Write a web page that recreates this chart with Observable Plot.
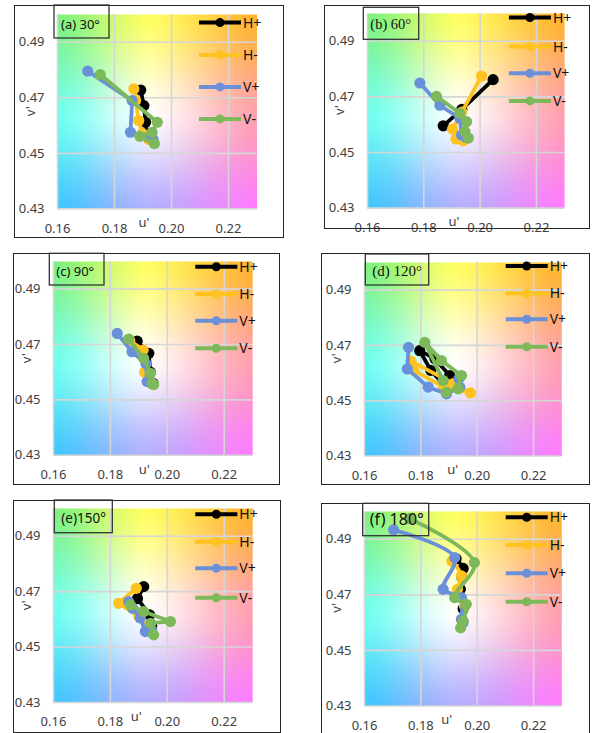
<!DOCTYPE html>
<html><head><meta charset="utf-8">
<script src="https://cdn.jsdelivr.net/npm/d3@7"></script>
<script src="https://cdn.jsdelivr.net/npm/@observablehq/plot@0.6"></script>
<style>
body{margin:0;background:#fff;}
#root{position:relative;width:592px;height:733px;overflow:hidden;font-family:"Noto Sans",sans-serif;background:#fff;}
#root > svg{position:absolute;}
</style></head><body><div id="root"></div>
<script>
// ---- data ----
const seriesNames = ["H+", "H-", "V+", "V-"];
const seriesColors = ["#000000", "#FFC21F", "#6A90D9", "#7DB85A"];
const panelLabels = ["(a) 30°", "(b) 60°", "(c) 90°", "(d) 120°", "(e)150°", "(f) 180°"];
const xTicks = [0.16, 0.18, 0.20, 0.22];
const yTicks = [0.43, 0.45, 0.47, 0.49];
const xDomain = [0.16, 0.23];
const yDomain = [0.43, 0.50];

// [series, u', v']
const d30 = [
  ["H+",0.1892,0.4728],["H+",0.1903,0.4672],["H+",0.1909,0.4612],["H+",0.1915,0.4566],["H+",0.1930,0.4548],
  ["H-",0.1868,0.4732],["H-",0.1874,0.4690],["H-",0.1885,0.4618],["H-",0.1897,0.4572],["H-",0.1920,0.4550],
  ["V+",0.1706,0.4796],["V+",0.1862,0.4690],["V+",0.1856,0.4576],["V+",0.1920,0.4558],["V+",0.1935,0.4550],
  ["V-",0.1750,0.4784],["V-",0.1950,0.4612],["V-",0.1932,0.4576],["V-",0.1889,0.4561],["V-",0.1940,0.4535]
];
const d60 = [
  ["H+",0.1869,0.4596],["H+",0.1935,0.4655],["H+",0.2046,0.4762],
  ["H-",0.2005,0.4775],["H-",0.1935,0.4645],["H-",0.1902,0.4584],["H-",0.1914,0.4548],["H-",0.1940,0.4542],
  ["V+",0.1786,0.4750],["V+",0.1857,0.4670],["V+",0.1928,0.4623],["V+",0.1934,0.4563],["V+",0.1950,0.4555],
  ["V-",0.1845,0.4702],["V-",0.1928,0.4641],["V-",0.1952,0.4611],["V-",0.1946,0.4575],["V-",0.1958,0.4552]
];
const d90 = [
  ["H+",0.1894,0.4712],["H+",0.1935,0.4668],["H+",0.1940,0.4600],["H+",0.1950,0.4560],
  ["H-",0.1868,0.4715],["H-",0.1915,0.4680],["H-",0.1920,0.4600],["H-",0.1934,0.4572],["H-",0.1950,0.4555],
  ["V+",0.1824,0.4740],["V+",0.1876,0.4674],["V+",0.1925,0.4630],["V+",0.1929,0.4566],["V+",0.1945,0.4560],
  ["V-",0.1864,0.4720],["V-",0.1917,0.4650],["V-",0.1941,0.4596],["V-",0.1947,0.4560],["V-",0.1952,0.4555]
];
const d120 = [
  ["H+",0.1902,0.4591],["H+",0.1850,0.4652],["H+",0.1796,0.4681],["H+",0.1835,0.4610],["H+",0.1883,0.4555],["H+",0.1905,0.4550],
  ["H-",0.1765,0.4643],["H-",0.1915,0.4562],["H-",0.1976,0.4528],["H-",0.1880,0.4550],["H-",0.1775,0.4610],
  ["V+",0.1756,0.4693],["V+",0.1752,0.4615],["V+",0.1826,0.4549],["V+",0.1891,0.4525],["V+",0.1938,0.4549],["V+",0.1935,0.4580],
  ["V-",0.1879,0.4573],["V-",0.1814,0.4711],["V-",0.1873,0.4645],["V-",0.1944,0.4591],["V-",0.1932,0.4543],["V-",0.1890,0.4531]
];
const d150 = [
  ["H+",0.1917,0.4718],["H+",0.1895,0.4675],["H+",0.1938,0.4616],["H+",0.1945,0.4575],
  ["H-",0.1891,0.4712],["H-",0.1829,0.4658],["H-",0.1900,0.4610],["H-",0.1930,0.4568],
  ["V+",0.1864,0.4664],["V+",0.1878,0.4640],["V+",0.1905,0.4605],["V+",0.1923,0.4556],["V+",0.1945,0.4562],
  ["V-",0.1870,0.4652],["V-",0.1917,0.4628],["V-",0.2011,0.4592],["V-",0.1941,0.4586],["V-",0.1952,0.4544]
];
const d180 = [
  ["H+",0.1925,0.4830],["H+",0.1950,0.4795],["H+",0.1945,0.4765],["H+",0.1940,0.4720],["H+",0.1950,0.4650],["H+",0.1948,0.4605],
  ["H-",0.1910,0.4822],["H-",0.1944,0.4768],["H-",0.1930,0.4720],["H-",0.1955,0.4660],["H-",0.1945,0.4610],
  ["V+",0.1703,0.4934],["V+",0.1920,0.4834],["V+",0.1879,0.4720],["V+",0.1944,0.4690],["V+",0.1944,0.4612],["V+",0.1950,0.4600],
  ["V-",0.1761,0.4974],["V-",0.1990,0.4816],["V-",0.1920,0.4690],["V-",0.1961,0.4666],["V-",0.1950,0.4606],["V-",0.1941,0.4581]
];
const panelData = [d30, d60, d90, d120, d150, d180];

// ---- layout (pixels) ----
const layout = [
  {box:[14,5,283,237], plot:[57,13.9,256.5,208.3], lab:[54,5,109,38], serif:false, fs:13, ty:24, leg:[8.7,41,73,105], uX:87, curve:"linear"},
  {box:[324,5,589,228], plot:[366.9,12.7,564,207.3], lab:[363.3,7.3,418.7,39.3], serif:true, fs:14.5, ty:22, leg:[4.8,33.8,60.5,88.2], uX:87, curve:"linear"},
  {box:[13,253,279,484], plot:[53.3,261.3,252.5,455], lab:[49.3,253.3,104,285], serif:false, fs:13, ty:23, leg:[5.4,32.7,59.4,87], uX:91, curve:"linear"},
  {box:[321,253,589,484], plot:[363.7,261.5,561,455], lab:[365.3,254,428.7,285], serif:true, fs:15, ty:22, leg:[4.5,31.8,57.8,85.2], uX:89, curve:"linear"},
  {box:[13,500,280,732], plot:[53.3,508.3,252.5,702.3], lab:[54.3,500,112.3,532.7], serif:false, fs:13.5, ty:22.7, leg:[6,33.4,60,89.4], uX:83, curve:"linear"},
  {box:[321,503,589,740], plot:[363.7,510.5,561,705], lab:[362.7,503.3,428.7,535.7], serif:false, fs:16, ty:22, leg:[6.8,34.5,62.8,91.2], uX:83, curve:"catmull-rom"}
];

// ---- background (u'v' chromaticity-like gradient) ----
const bgU = [0.16, 0.192, 0.23];
const bgV = [0.43, 0.463, 0.50];
const bgRows = [
  ["#40c6ff", "#b4b0ff", "#ff7cff"],
  ["#70fff2", "#ffffff", "#ffa0b0"],
  ["#7ef27e", "#ffff60", "#ffb42c"]
].map(r => r.map(c => d3.rgb(c)));
const ease = s => s * s * (3 - 2 * s) * 0.5 + s * 0.5;
function bg(u, v) {
  const i = u < bgU[1] ? 0 : 1, j = v < bgV[1] ? 0 : 1;
  let s = Math.max(0, Math.min(1, (u - bgU[i]) / (bgU[i + 1] - bgU[i])));
  let t = Math.max(0, Math.min(1, (v - bgV[j]) / (bgV[j + 1] - bgV[j])));
  s = ease(s); t = ease(t);
  const a = bgRows[j][i], b = bgRows[j][i + 1], c = bgRows[j + 1][i], d = bgRows[j + 1][i + 1];
  const f = k => Math.round((a[k] * (1 - s) + b[k] * s) * (1 - t) + (c[k] * (1 - s) + d[k] * s) * t);
  return `rgb(${f("r")},${f("g")},${f("b")})`;
}

const root = d3.select("#root");
const ml = 48, mb = 34, mt = 2, mr = 2;

panelData.forEach((data, p) => {
  const L = layout[p];
  const [x0, y0, x1, y1] = L.plot;
  const rows = data.map(([s, u, v]) => ({s, u, v}));
  const marks = [
    Plot.raster({x1: xDomain[0], x2: xDomain[1], y1: yDomain[0], y2: yDomain[1], fill: bg, pixelSize: 1}),
    Plot.gridX(xTicks, {stroke: "#d6d6d6", strokeOpacity: 1, strokeWidth: 1.6}),
    Plot.gridY(yTicks, {stroke: "#d6d6d6", strokeOpacity: 1, strokeWidth: 1.6}),
    Plot.axisX(xTicks, {tickSize: 0, tickPadding: 14.5, tickFormat: d3.format(".2f"), label: null}),
    Plot.axisY(yTicks, {tickSize: 0, tickPadding: 13, tickFormat: d3.format(".2f"), label: null})
  ];
  seriesNames.forEach((name, k) => {
    const sd = rows.filter(r => r.s === name);
    marks.push(Plot.line(sd, {x: "u", y: "v", stroke: seriesColors[k], strokeWidth: 3.8, curve: L.curve}));
    marks.push(Plot.dot(sd, {x: "u", y: "v", r: 5.6, fill: seriesColors[k]}));
  });
  const svg = Plot.plot({
    width: (x1 - x0) + ml + mr, height: (y1 - y0) + mt + mb,
    marginLeft: ml, marginRight: mr, marginTop: mt, marginBottom: mb,
    x: {domain: xDomain}, y: {domain: yDomain},
    style: {fontFamily: '"Noto Sans", sans-serif', fontSize: "13px", color: "#404040", background: "transparent", overflow: "visible"},
    marks
  });
  svg.style.left = (x0 - ml) + "px";
  svg.style.top = (y0 - mt) + "px";
  root.node().appendChild(svg);
});

// ---- overlay: boxes, panel labels, legends, axis titles ----
const ov = root.append("svg").attr("width", 592).attr("height", 733).style("left", "0px").style("top", "0px");
layout.forEach((L, p) => {
  const [bx0, by0, bx1, by1] = L.box;
  ov.append("rect").attr("x", bx0 + 0.5).attr("y", by0 + 0.5).attr("width", bx1 - bx0).attr("height", by1 - by0)
    .attr("fill", "none").attr("stroke", "#262626").attr("stroke-width", 1);
  const [lx0, ly0, lx1, ly1] = L.lab;
  ov.append("rect").attr("x", lx0).attr("y", ly0).attr("width", lx1 - lx0).attr("height", ly1 - ly0)
    .attr("fill", "none").attr("stroke", "#333").attr("stroke-width", 1.3);
  ov.append("text").attr("x", lx0 + 7).attr("y", ly0 + L.ty).text(panelLabels[p])
    .attr("font-family", L.serif ? '"Liberation Serif", serif' : '"Noto Sans", sans-serif')
    .attr("font-size", L.fs).attr("fill", "#111");
  const [x0, y0, x1, y1] = L.plot;
  seriesNames.forEach((name, k) => {
    const yy = y0 + L.leg[k];
    ov.append("line").attr("x1", x0 + 142).attr("x2", x0 + 184).attr("y1", yy).attr("y2", yy)
      .attr("stroke", seriesColors[k]).attr("stroke-width", 4);
    ov.append("circle").attr("cx", x0 + 163).attr("cy", yy).attr("r", 4.5).attr("fill", seriesColors[k]);
    ov.append("text").attr("x", x0 + 186).attr("y", yy).attr("dy", "0.36em").text(name)
      .attr("font-family", '"Noto Sans", sans-serif').attr("font-size", 14).attr("fill", "#111");
  });
  ov.append("text").attr("x", x0 + L.uX).attr("y", y1 + 19).attr("text-anchor", "middle").text("u'")
    .attr("font-family", '"Noto Sans", sans-serif').attr("font-size", 13).attr("fill", "#404040");
  ov.append("text").attr("transform", `translate(${x0 - 27},${(y0 + y1) / 2}) rotate(-90)`)
    .attr("text-anchor", "middle").attr("dy", "0.35em").text("v'")
    .attr("font-family", '"Noto Sans", sans-serif').attr("font-size", 13).attr("fill", "#404040");
});
</script></body></html>
